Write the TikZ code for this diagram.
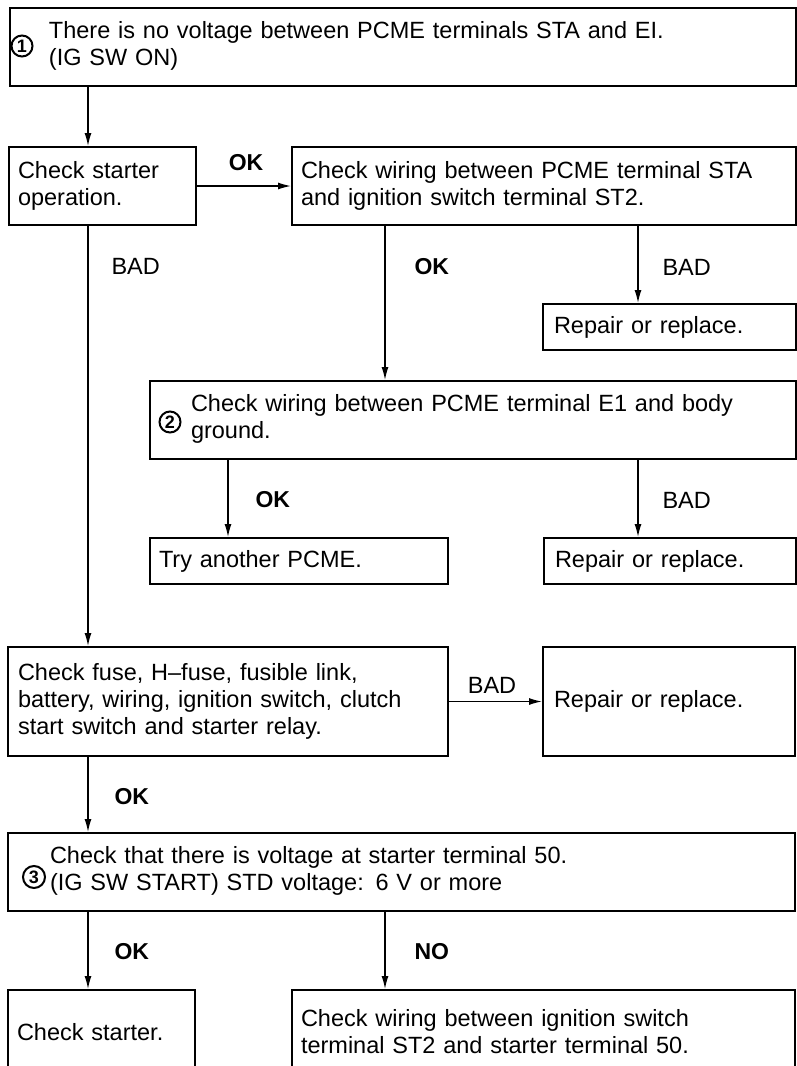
\documentclass[tikz,border=0pt]{standalone}
\usepackage{fontspec}
\setmainfont{Liberation Sans}
\usetikzlibrary{arrows.meta}
\newcommand{\boxfont}{\fontsize{23.5}{27}\selectfont}
\newcommand{\tagfont}{\fontsize{23}{25}\selectfont\bfseries}
\newcommand{\indented}[2]{\hspace*{#1}\begin{tabular}[c]{@{}l@{}}#2\end{tabular}}

\begin{document}
\begin{tikzpicture}[x=1pt, y=-1pt,
  >={Latex[length=13pt,width=7pt]},
  box/.style={draw, line width=2pt, align=left, inner xsep=9pt, inner ysep=0pt, font=\boxfont},
  numcirc/.style={draw, circle, line width=2pt, inner sep=0pt, minimum size=21pt, font=\fontsize{18}{18}\selectfont\bfseries},
  link/.style={->, line width=1.4pt},
  tag/.style={anchor=west, font=\tagfont},
  badtag/.style={anchor=west, font=\boxfont}]
\useasboundingbox (0,0) rectangle (797,1066);
\coordinate (colA) at (88,0);
\coordinate (colB) at (385,0);
\coordinate (colC) at (638,0);
\coordinate (colD) at (228,0);

\node[box, minimum width=786pt, text width=768pt, minimum height=78pt] (noVolt) at (403,47) {\indented{30pt}{There is no voltage between PCME terminals STA and EI.\\(IG SW ON)}};
\node[numcirc] (numA) at (22,46) {1};

\node[box, minimum width=187pt, text width=169pt, minimum height=78pt] (starterOp) at (102.5,186) {Check starter\\operation.};
\node[box, minimum width=504pt, text width=486pt, minimum height=78pt] (staWire) at (544,186) {Check wiring between PCME terminal STA\\and ignition switch terminal ST2.};
\node[box, minimum width=253pt, text width=231pt, minimum height=46pt, inner xsep=11pt] (repairA) at (669.5,327) {Repair or replace.};

\node[box, minimum width=646pt, text width=628pt, minimum height=78pt] (eWire) at (473,420) {\indented{32pt}{Check wiring between PCME terminal E1 and body\\ground.}};
\node[numcirc] (numB) at (170,422) {2};

\node[box, minimum width=298pt, text width=280pt, minimum height=46pt] (otherPcme) at (299,561) {Try another PCME.};
\node[box, minimum width=252pt, text width=230pt, minimum height=46pt, inner xsep=11pt] (repairB) at (670,561) {Repair or replace.};

\node[box, minimum width=440pt, text width=420pt, minimum height=109pt, inner xsep=10pt] (fuseCheck) at (228,701.5) {Check fuse, H--fuse, fusible link,\\battery, wiring, ignition switch, clutch\\start switch and starter relay.};
\node[box, minimum width=252pt, text width=230pt, minimum height=109pt, inner xsep=11pt] (repairC) at (669,701.5) {Repair or replace.};

\node[box, minimum width=787pt, text width=769pt, minimum height=78pt] (voltCheck) at (401.5,872) {\indented{33pt}{Check that there is voltage at starter terminal 50.\\(IG SW START) STD voltage: 6 V or more}};
\node[numcirc, minimum size=22pt] (numC) at (34,877) {3};

\node[box, minimum width=187pt, text width=169pt, minimum height=84pt] (starterChk) at (101.5,1032) {Check starter.};
\node[box, minimum width=503pt, text width=485pt, minimum height=84pt] (stWire) at (543.5,1032) {Check wiring between ignition switch\\terminal ST2 and starter terminal 50.};

% connectors
\draw[link] (noVolt.south -| colA) -- (starterOp.north -| colA);
\draw[link] (starterOp.east) -- (staWire.west |- starterOp.east);
\draw[link] (starterOp.south -| colA) -- (fuseCheck.north -| colA);
\draw[link] (staWire.south -| colB) -- (eWire.north -| colB);
\draw[link] (staWire.south -| colC) -- (repairA.north -| colC);
\draw[link] (eWire.south -| colD) -- (otherPcme.north -| colD);
\draw[link] (eWire.south -| colC) -- (repairB.north -| colC);
\draw[link] (fuseCheck.east) -- (repairC.west);
\draw[link] (fuseCheck.south -| colA) -- (voltCheck.north -| colA);
\draw[link] (voltCheck.south -| colA) -- (starterChk.north -| colA);
\draw[link] (voltCheck.south -| colB) -- (stWire.north -| colB);

% labels
\node[tag, anchor=center] (okA) at (246,163) {OK};
\node[badtag] (badA) at (108,266) {BAD};
\node[tag] (okB) at (411,267) {OK};
\node[badtag] (badB) at (659,267) {BAD};
\node[tag] (okC) at (252,500) {OK};
\node[badtag] (badC) at (659,500) {BAD};
\node[badtag, anchor=center] (badD) at (492,685) {BAD};
\node[tag] (okD) at (111,797) {OK};
\node[tag] (okE) at (111,952) {OK};
\node[tag] (noA) at (411,952) {NO};
\end{tikzpicture}
\end{document}
